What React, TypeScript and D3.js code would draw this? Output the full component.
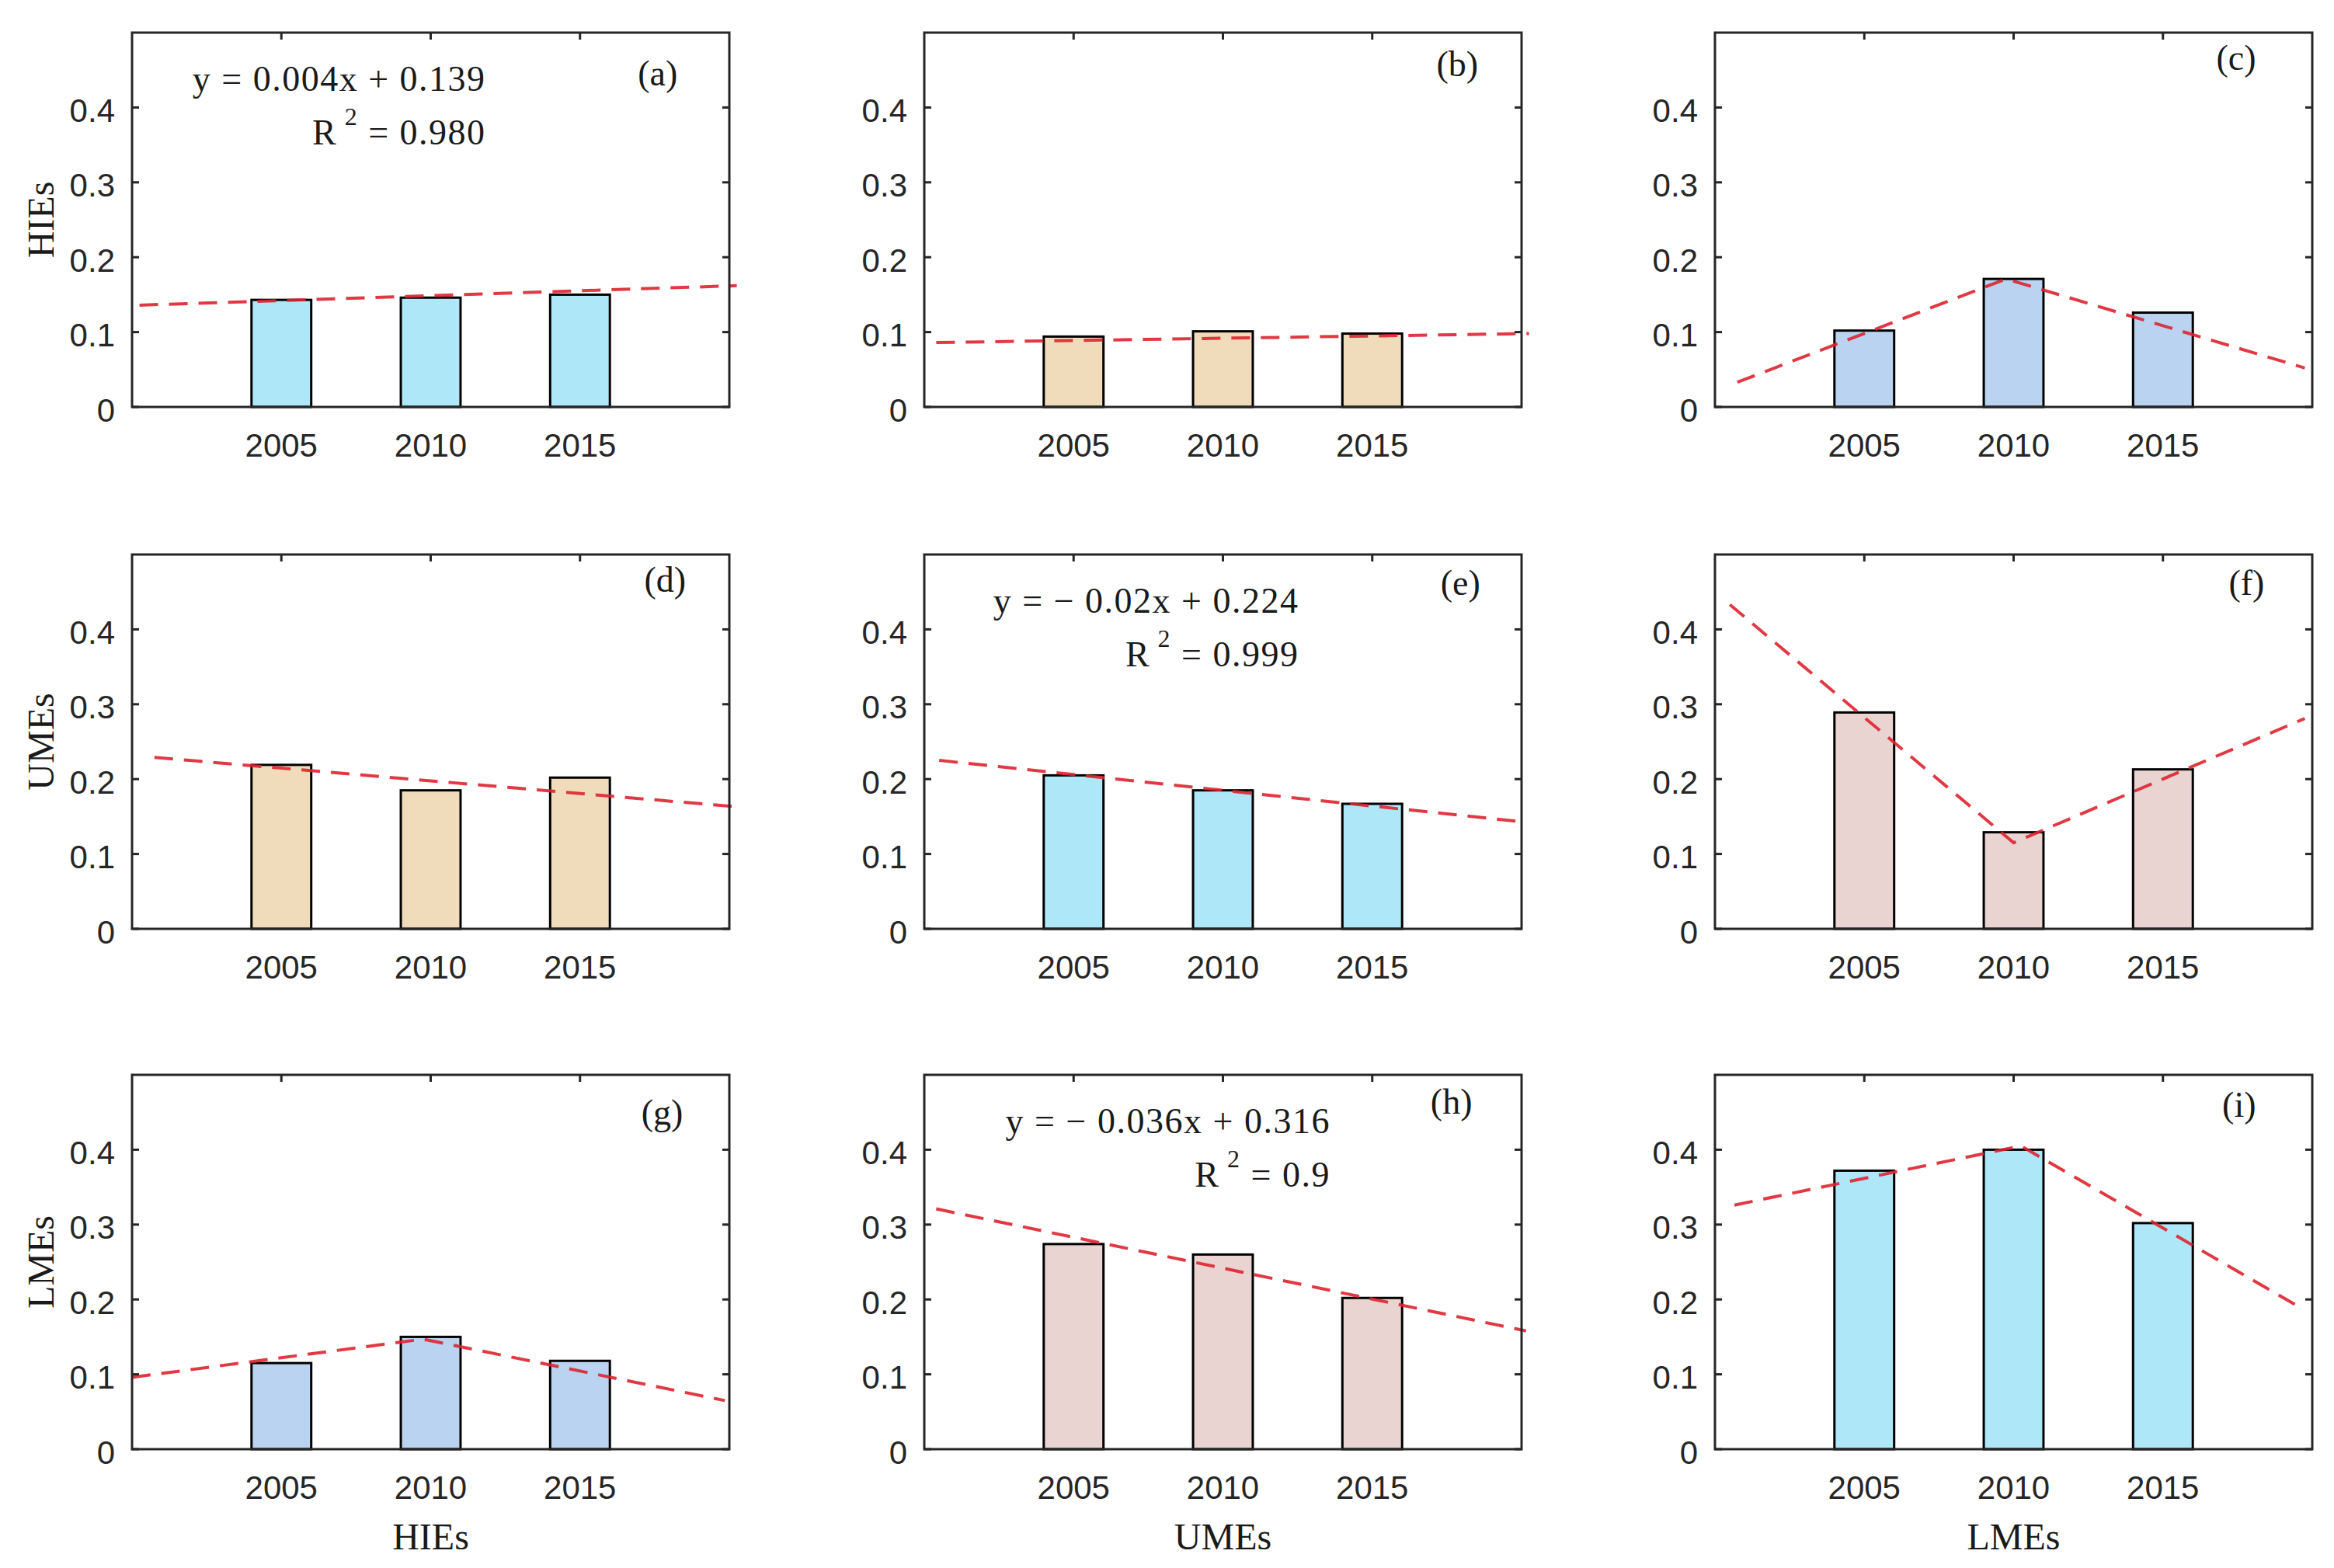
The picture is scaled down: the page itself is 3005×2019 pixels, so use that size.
import React, { useEffect, useRef } from 'react';
import * as d3 from 'd3';

const years = ['2005', '2010', '2015'];
const yTicks = [0, 0.1, 0.2, 0.3, 0.4];
const rowNames = ['HIEs', 'UMEs', 'LMEs'];
const panelTags = ['(a)', '(b)', '(c)', '(d)', '(e)', '(f)', '(g)', '(h)', '(i)'];

// bar heights per panel (2005, 2010, 2015)
const valsA = [0.143, 0.146, 0.150];
const valsB = [0.094, 0.101, 0.098];
const valsC = [0.102, 0.171, 0.126];
const valsD = [0.219, 0.185, 0.202];
const valsE = [0.205, 0.185, 0.167];
const valsF = [0.289, 0.129, 0.213];
const valsG = [0.115, 0.150, 0.118];
const valsH = [0.274, 0.260, 0.202];
const valsI = [0.372, 0.400, 0.302];

// dashed trend lines, [x, y] in axis units (bars sit at x = 1, 2, 3)
const trendA = [[0.05, 0.136], [4.05, 0.162]];
const trendB = [[0.08, 0.086], [4.05, 0.098]];
const trendC = [[0.15, 0.033], [1.95, 0.171], [3.95, 0.052]];
const trendD = [[0.15, 0.229], [4.05, 0.163]];
const trendE = [[0.1, 0.225], [4.0, 0.143]];
const trendF = [[0.1, 0.433], [2.0, 0.115], [3.95, 0.281]];
const trendG = [[0.0, 0.096], [1.95, 0.147], [3.97, 0.065]];
const trendH = [[0.08, 0.321], [4.03, 0.158]];
const trendI = [[0.13, 0.326], [2.05, 0.405], [3.93, 0.188]];

// panel tag position [x, y] in axis units
const tagPos = [[3.52, 0.446], [3.57, 0.458], [3.49, 0.466], [3.57, 0.466], [3.59, 0.462], [3.56, 0.462], [3.55, 0.45], [3.53, 0.464], [3.51, 0.46]];

// regression text: panel index, first line, R^2 value, right edge in axis units
const equations = [
  { panel: 0, line: 'y = 0.004x + 0.139', r2: '0.980', xEnd: 2.37 },
  { panel: 4, line: 'y = \u2212 0.02x + 0.224', r2: '0.999', xEnd: 2.51 },
  { panel: 7, line: 'y = \u2212 0.036x + 0.316', r2: '0.9', xEnd: 2.72 },
];

const cyan = '#aee7f8';
const beige = '#f0dcbb';
const steel = '#b9d3f0';
const rose = '#e9d4d2';
const fills = [cyan, beige, steel, beige, cyan, rose, steel, rose, cyan];

const allVals = [valsA, valsB, valsC, valsD, valsE, valsF, valsG, valsH, valsI];
const allTrends = [trendA, trendB, trendC, trendD, trendE, trendF, trendG, trendH, trendI];

const W = 3005;
const H = 2019;
const colLeft = [170, 1190, 2208];
const rowTop = [42, 714, 1384];
const pw = 769;
const ph = 482;

const sans = '"Liberation Sans", Arial, sans-serif';
const serif = '"Liberation Serif", "Times New Roman", serif';

const App: React.FC = () => {
  const svgRef = useRef<SVGSVGElement>(null);

  useEffect(() => {
    if (!svgRef.current) return;
    const svg = d3.select(svgRef.current);
    svg.selectAll('*').remove();

    svg.append('rect').attr('width', W).attr('height', H).attr('fill', '#fff');

    allVals.forEach((vals, p) => {
      const r = Math.floor(p / 3);
      const c = p % 3;
      const left = colLeft[c];
      const top = rowTop[r];
      const x = d3.scaleLinear().domain([0, 4]).range([left, left + pw]);
      const y = d3.scaleLinear().domain([0, 0.5]).range([top + ph, top]);
      const g = svg.append('g');

      // bars
      g.selectAll('rect.bar')
        .data(vals)
        .join('rect')
        .attr('class', 'bar')
        .attr('x', (_, i) => x(i + 1 - 0.2))
        .attr('width', x(0.4) - x(0))
        .attr('y', d => y(d))
        .attr('height', d => y(0) - y(d))
        .attr('fill', fills[p])
        .attr('stroke', '#000')
        .attr('stroke-width', 3);

      // trend
      const line = d3.line<number[]>().x(d => x(d[0])).y(d => y(d[1]));
      g.append('path')
        .attr('d', line(allTrends[p]) as string)
        .attr('fill', 'none')
        .attr('stroke', '#de2430')
        .attr('stroke-width', 4)
        .attr('stroke-dasharray', '24,14')
        .attr('opacity', 0.9);

      // box
      g.append('rect')
        .attr('x', left).attr('y', top).attr('width', pw).attr('height', ph)
        .attr('fill', 'none').attr('stroke', '#262626').attr('stroke-width', 3);

      // y ticks both sides
      yTicks.forEach(t => {
        g.append('line').attr('x1', left).attr('x2', left + 9).attr('y1', y(t)).attr('y2', y(t))
          .attr('stroke', '#262626').attr('stroke-width', 3);
        g.append('line').attr('x1', left + pw).attr('x2', left + pw - 9).attr('y1', y(t)).attr('y2', y(t))
          .attr('stroke', '#262626').attr('stroke-width', 3);
        g.append('text')
          .attr('x', left - 22).attr('y', y(t) + 4)
          .attr('text-anchor', 'end').attr('dominant-baseline', 'central')
          .attr('font-family', sans).attr('font-size', 42).attr('fill', '#262626')
          .text(String(t));
      });

      // x ticks top + labels
      years.forEach((yr, i) => {
        const xi = x(i + 1);
        g.append('line').attr('x1', xi).attr('x2', xi).attr('y1', top).attr('y2', top + 9)
          .attr('stroke', '#262626').attr('stroke-width', 3);
        g.append('text')
          .attr('x', xi).attr('y', top + ph + 64)
          .attr('text-anchor', 'middle')
          .attr('font-family', sans).attr('font-size', 42).attr('fill', '#262626')
          .text(yr);
      });

      // panel tag
      g.append('text')
        .attr('x', x(tagPos[p][0])).attr('y', y(tagPos[p][1]))
        .attr('text-anchor', 'middle').attr('dominant-baseline', 'central')
        .attr('font-family', serif).attr('font-size', 46).attr('fill', '#1a1a1a')
        .text(panelTags[p]);

      // axis titles
      if (c === 0) {
        g.append('text')
          .attr('transform', `translate(52, ${top + ph / 2}) rotate(-90)`)
          .attr('text-anchor', 'middle').attr('dominant-baseline', 'central')
          .attr('font-family', serif).attr('font-size', 48).attr('fill', '#1a1a1a')
          .text(rowNames[r]);
      }
      if (r === 2) {
        g.append('text')
          .attr('x', left + pw / 2).attr('y', 1978)
          .attr('text-anchor', 'middle').attr('dominant-baseline', 'central')
          .attr('font-family', serif).attr('font-size', 48).attr('fill', '#1a1a1a')
          .text(rowNames[c]);
      }

      // regression equation
      equations.filter(e => e.panel === p).forEach(e => {
        const xe = x(e.xEnd);
        g.append('text')
          .attr('x', xe).attr('y', y(0.438))
          .attr('text-anchor', 'end').attr('dominant-baseline', 'central')
          .attr('font-family', serif).attr('font-size', 46).attr('letter-spacing', 1.5)
          .attr('fill', '#1a1a1a')
          .text(e.line);
        const t2 = g.append('text')
          .attr('x', xe).attr('y', y(0.367))
          .attr('text-anchor', 'end').attr('dominant-baseline', 'central')
          .attr('font-family', serif).attr('font-size', 46).attr('letter-spacing', 1.5)
          .attr('fill', '#1a1a1a');
        t2.append('tspan').text('R');
        t2.append('tspan').attr('dy', -20).attr('font-size', 32).text(' 2');
        t2.append('tspan').attr('dy', 20).text(` = ${e.r2}`);
      });
    });
  }, []);

  return (
    <svg
      ref={svgRef}
      width={W}
      height={H}
      style={{ position: 'absolute', left: 0, top: 0, display: 'block' }}
    />
  );
};

export default App;
